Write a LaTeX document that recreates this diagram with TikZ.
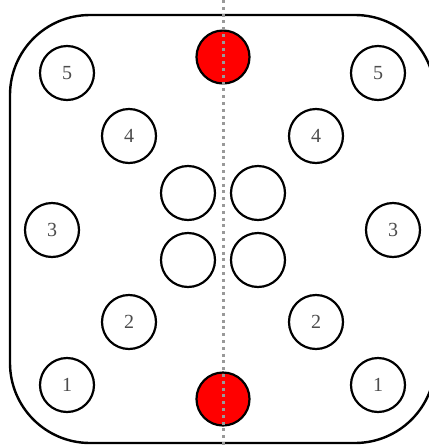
\documentclass[tikz,border=0pt]{standalone}
\usepackage{fontspec}
\setmainfont{Liberation Serif}
\begin{document}
\begin{tikzpicture}[x=1pt,y=-1pt,
  hole/.style={circle,draw=black,line width=2.2pt,minimum size=54pt,inner sep=0pt,fill=white,
    text=black!70,font=\fontsize{20}{20}\selectfont},
  redhole/.style={circle,draw=black,line width=2.2pt,minimum size=53pt,inner sep=0pt,fill=red},
  axis/.style={draw=black!40,line width=3pt,dash pattern=on 3pt off 3.8pt}]
\useasboundingbox (0,0) rectangle (429,448);
\begin{scope}
\clip (0,0) rectangle (429,448);
\draw[line width=2.4pt,rounded corners=80pt] (10,15) rectangle (435,443);
\end{scope}
\node[hole] (l5) at (67,73) {5};
\node[hole] (r5) at (378,73) {5};
\node[hole] (l4) at (129,136) {4};
\node[hole] (r4) at (316,136) {4};
\node[hole] (l3) at (52,230) {3};
\node[hole] (r3) at (393,230) {3};
\node[hole] (l2) at (129,322) {2};
\node[hole] (r2) at (316,322) {2};
\node[hole] (l1) at (67,385) {1};
\node[hole] (r1) at (378,385) {1};
\node[hole] (c1) at (188,193) {};
\node[hole] (c2) at (258,193) {};
\node[hole] (c3) at (188,260) {};
\node[hole] (c4) at (258,260) {};
\node[redhole] (rt) at (223,57) {};
\node[redhole] (rb) at (223,399) {};
\coordinate (top) at (223,0);
\coordinate (bot) at (223,448);
\draw[axis] (top) -- (bot);
\end{tikzpicture}
\end{document}
